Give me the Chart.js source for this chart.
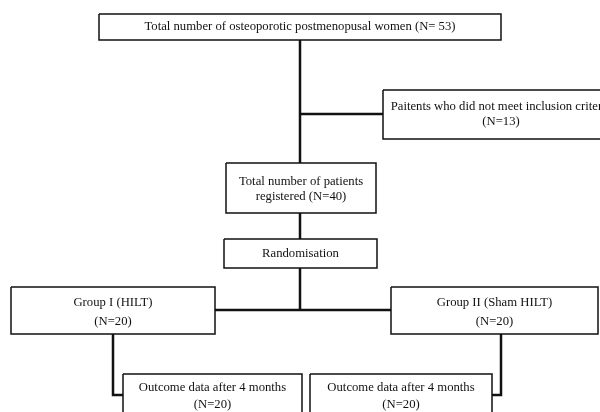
<!DOCTYPE html>
<html lang="en">
<head>
    <meta charset="UTF-8">
    <title>Study Flowchart</title>
    <script src="https://cdn.jsdelivr.net/npm/chart.js"></script>
    <style>
        body {
            margin: 0;
            padding: 0;
            background: #ffffff;
        }
        .wrap {
            width: 600px;
            height: 412px;
            position: relative;
        }
    </style>
</head>
<body>
    <div class="wrap">
        <canvas id="flowChart"></canvas>
    </div>

    <script>
        // box texts, one entry per box (lines)
        const boxText = [
            ['Total number of osteoporotic postmenopusal women (N= 53)'],
            ['Paitents who did not meet inclusion criteria', '(N=13)'],
            ['Total number of patients', 'registered (N=40)'],
            ['Randomisation'],
            ['Group I (HILT)', '(N=20)'],
            ['Group II (Sham HILT)', '(N=20)'],
            ['Outcome data after 4 months', '(N=20)'],
            ['Outcome data after 4 months', '(N=20)']
        ];

        // layout of the boxes in page units (x to the right, y downwards)
        const boxLeft   = [99, 383, 226, 224, 11, 391, 123, 310];
        const boxTop    = [14, 90, 163, 239, 287, 287, 374, 374];
        const boxRight  = [501, 619, 376, 377, 215, 598, 302, 492];
        const boxBottom = [40, 139, 213, 268, 334, 334, 440, 440];
        const textMid   = [27, 114.5, 189, 253.5, 312.5, 312.5, 396.5, 396.5];
        const lineGap   = [0, 15, 15, 0, 19, 19, 17, 17];

        // connector polylines between boxes
        const links = [
            [[300, 40], [300, 163]],
            [[300, 114], [383, 114]],
            [[300, 213], [300, 239]],
            [[300, 268], [300, 310]],
            [[215, 310], [391, 310]],
            [[113, 334], [113, 395], [123, 395]],
            [[501, 334], [501, 395], [492, 395]]
        ];

        const datasets = [];
        boxText.forEach((t, i) => {
            datasets.push({
                data: [
                    { x: boxLeft[i], y: boxTop[i] },
                    { x: boxRight[i], y: boxTop[i] },
                    { x: boxRight[i], y: boxBottom[i] },
                    { x: boxLeft[i], y: boxBottom[i] },
                    { x: boxLeft[i], y: boxTop[i] }
                ],
                showLine: true,
                borderColor: '#111',
                borderWidth: 1.5,
                pointRadius: 0,
                fill: false,
                tension: 0
            });
        });
        links.forEach(l => {
            datasets.push({
                data: l.map(p => ({ x: p[0], y: p[1] })),
                showLine: true,
                borderColor: '#111',
                borderWidth: 2.5,
                borderJoinStyle: 'miter',
                pointRadius: 0,
                fill: false,
                tension: 0
            });
        });

        const boxLabels = {
            id: 'boxLabels',
            afterDatasetsDraw(chart) {
                const ctx = chart.ctx;
                const xs = chart.scales.x;
                const ys = chart.scales.y;
                ctx.save();
                ctx.fillStyle = '#111';
                ctx.font = '12.7px "Liberation Serif", "Times New Roman", serif';
                ctx.textAlign = 'center';
                ctx.textBaseline = 'middle';
                boxText.forEach((lines, i) => {
                    const cx = xs.getPixelForValue((boxLeft[i] + boxRight[i]) / 2);
                    const first = textMid[i] - lineGap[i] * (lines.length - 1) / 2;
                    lines.forEach((s, k) => {
                        ctx.fillText(s, cx, ys.getPixelForValue(first + k * lineGap[i]));
                    });
                });
                ctx.restore();
            }
        };

        new Chart(document.getElementById('flowChart'), {
            type: 'scatter',
            data: { datasets: datasets },
            options: {
                responsive: true,
                maintainAspectRatio: false,
                animation: false,
                layout: { padding: 0 },
                plugins: {
                    legend: { display: false },
                    tooltip: { enabled: false }
                },
                scales: {
                    x: { type: 'linear', min: 0, max: 600, display: false },
                    y: { type: 'linear', min: 0, max: 412, reverse: true, display: false }
                }
            },
            plugins: [boxLabels]
        });
    </script>
</body>
</html>
